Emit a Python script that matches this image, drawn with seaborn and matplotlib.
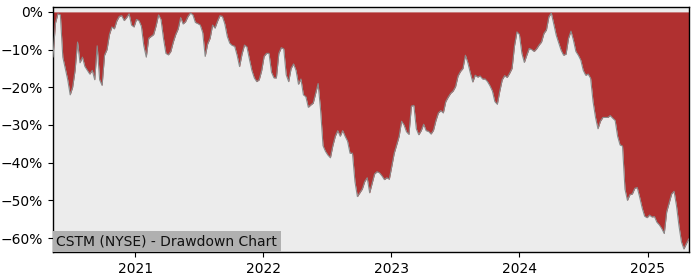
import matplotlib
matplotlib.use("Agg")
import matplotlib.pyplot as plt
import matplotlib.dates as mdates
from matplotlib.ticker import FuncFormatter
import numpy as np
import pandas as pd
import seaborn as sns

# Weekly drawdown readings (percent), starting week of 2020-05-11
start_date = "2020-05-11"
drawdown_pct = [
    -12, -3, -0.5, -0.8, -12, -15, -18, -22, -20, -15.5,
    -8, -13.5, -12, -14.5, -15.5, -16.5, -15.5, -18, -9, -18,
    -19.5, -11.5, -10, -6, -4, -4.5, -2.4, -1.2, -1, -2.3,
    -1.5, -0.5, -3.5, -4, -2, -2.3, -3.8, -9, -12, -7,
    -6.5, -6, -3.7, -0.8, -2, -7, -11, -11.4, -10.5, -8,
    -6, -4.5, -1.5, -3.2, -2.6, -1.2, -0.3, -0.8, -2.8, -3.1,
    -3.5, -5.5, -11.8, -8.5, -7, -3.5, -4.3, -2.5, -1, -1.2,
    -3.2, -6.5, -8.3, -8.9, -9.1, -11.5, -14.5, -11.2, -8.8, -9.3,
    -12.5, -15.5, -17.5, -18.5, -18, -15.6, -11.8, -11, -11, -16,
    -17.5, -17.5, -11, -9.5, -9.8, -16.7, -18.5, -15, -13.8, -15.5,
    -19.2, -17.8, -22, -22.5, -25.3, -24.7, -24.2, -21.6, -19, -26,
    -35.5, -37, -38, -38.7, -35.5, -33, -31.5, -33, -31.5, -33,
    -34.3, -37.5, -37.5, -45, -49, -48, -47, -45, -44, -48,
    -45.5, -43, -42.4, -42.7, -43.5, -44.5, -44, -44.4, -41, -37.5,
    -35.3, -33, -29, -30, -31.8, -32.5, -25, -24.8, -31, -32.6,
    -31.5, -29.8, -31.5, -31.7, -32.4, -31.4, -28.8, -26.8, -26.2, -26.8,
    -23.8, -22.6, -21.6, -21, -19.8, -17, -15.8, -15, -11.5, -13.5,
    -16.2, -18.6, -16.8, -17.3, -17, -17.8, -17.8, -18.5, -19.6, -21,
    -23.8, -24.5, -21, -18, -16.9, -17.4, -16.3, -15, -9, -5.3,
    -6, -11, -13.4, -11.5, -9.7, -10, -10.5, -9.8, -8.8, -8,
    -5.7, -4.8, -1.3, -0.3, -3.2, -6.2, -8.2, -10.2, -11.5, -11.2,
    -7, -5.1, -7.5, -10.5, -11.5, -12.8, -15.5, -16.8, -16.5, -17.6,
    -23.8, -28, -31, -29, -28, -28, -28, -27.5, -28.2, -28.8,
    -33, -35.3, -35.6, -47, -50, -48.5, -48.3, -46.8, -46.6, -49.2,
    -52, -54.2, -54.6, -53.9, -54.4, -54.3, -55.8, -56.5, -57.5, -58.8,
    -53, -50.7, -48.3, -47.6, -51.5, -56.8, -61, -62.9, -61.5, -60.2,
]
title_text = "CSTM (NYSE) - Drawdown Chart"
ytick_values = [0, -10, -20, -30, -40, -50, -60]
year_ticks = ["2021-01-01", "2022-01-01", "2023-01-01", "2024-01-01", "2025-01-01"]

dates = pd.date_range(start_date, periods=len(drawdown_pct), freq="7D")
df = pd.DataFrame({"date": dates, "dd": np.array(drawdown_pct) / 100.0})

sns.set_style("ticks")
plt.rcParams["font.family"] = ["DejaVu Sans"]

fig = plt.figure(figsize=(7, 2.8), dpi=100)
ax = fig.add_axes([0.0757, 0.1, 0.9083, 0.875])
ax.set_facecolor("#ececec")

ax.fill_between(df["date"], df["dd"], 0, color="#b03030", linewidth=0, zorder=2)
sns.lineplot(data=df, x="date", y="dd", ax=ax, color="#8a8a8a", linewidth=0.8, zorder=3)

ax.set_xlim(df["date"].iloc[0], df["date"].iloc[-1])
ax.set_ylim(-0.637, 0.013)
ax.set_yticks([v / 100 for v in ytick_values])
ax.yaxis.set_major_formatter(FuncFormatter(lambda v, p: f"{v*100:.0f}%".replace("-", "\u2212")))
ax.set_xticks(pd.to_datetime(year_ticks))
ax.xaxis.set_major_formatter(mdates.DateFormatter("%Y"))
ax.set_xlabel("")
ax.set_ylabel("")
for s in ax.spines.values():
    s.set_color("black")
    s.set_linewidth(1.0)
ax.tick_params(colors="black", labelsize=10, length=3.5, width=0.8)

ax.text(0.005, 0.015, title_text, transform=ax.transAxes, fontsize=10, color="#111111",
        ha="left", va="bottom", zorder=5,
        bbox=dict(facecolor="#b0b0b0", edgecolor="none", pad=2.5))

fig.savefig("out.png", dpi=100)
